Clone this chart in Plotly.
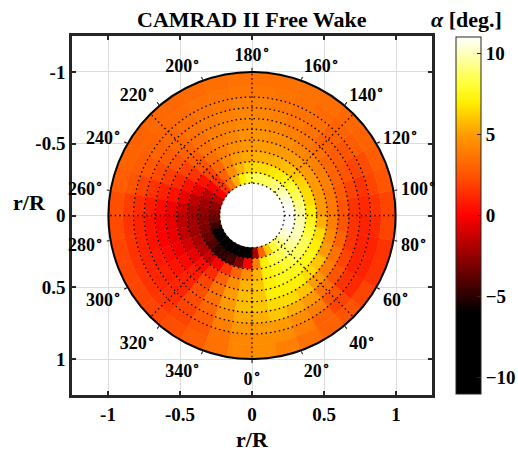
import plotly.graph_objects as go

# ---------------- data ----------------
# azimuth bin centres (deg), 10-deg wide bins
PSI_DEG = list(range(5, 360, 10))
# radial bin edges (r/R)
R_EDGES = [0.225, 0.3, 0.375, 0.45, 0.525, 0.6, 0.675, 0.75, 0.825, 0.9, 1.0]
# angle of attack [deg], one row per azimuth bin, inner -> outer radius
ALPHA_DEG = [
    [-2.0, 4.0, 5.5, 6.0, 6.0, 6.0, 5.5, 5.0, 4.5, 4.5],    # 5
    [3.0, 7.0, 7.0, 7.0, 7.0, 6.5, 6.0, 5.0, 4.5, 4.0],     # 15
    [6.0, 8.0, 7.5, 7.5, 7.0, 6.5, 5.5, 4.5, 4.0, 3.5],     # 25
    [8.0, 8.5, 8.0, 7.5, 7.0, 6.0, 5.0, 4.0, 3.0, 3.0],     # 35
    [9.0, 9.0, 8.5, 7.5, 6.5, 5.0, 3.5, 2.5, 2.0, 2.5],     # 45
    [10.0, 9.5, 8.5, 7.5, 6.0, 4.0, 2.5, 1.5, 1.2, 2.0],    # 55
    [10.5, 10.0, 8.5, 7.0, 5.0, 3.5, 2.0, 1.0, 1.0, 1.5],   # 65
    [11.0, 10.0, 8.0, 6.5, 4.5, 3.0, 1.5, 1.0, 1.0, 1.5],   # 75
    [11.0, 9.8, 7.5, 5.5, 4.0, 2.5, 1.5, 1.0, 1.2, 2.0],    # 85
    [11.0, 9.5, 7.0, 5.0, 3.8, 2.5, 1.5, 1.2, 1.5, 2.0],    # 95
    [10.8, 9.0, 6.5, 5.0, 3.8, 2.8, 2.0, 1.5, 2.0, 2.5],    # 105
    [10.5, 8.5, 6.5, 5.0, 4.0, 3.0, 2.5, 2.0, 2.2, 2.8],    # 115
    [10.0, 8.0, 6.3, 5.0, 4.0, 3.2, 2.8, 2.5, 2.8, 3.0],    # 125
    [9.5, 7.5, 6.0, 5.0, 4.2, 3.5, 3.0, 3.0, 3.0, 3.2],     # 135
    [9.0, 7.0, 5.8, 5.0, 4.3, 3.8, 3.5, 3.5, 3.3, 3.4],     # 145
    [8.5, 6.8, 5.6, 5.0, 4.5, 4.0, 3.8, 3.6, 3.5, 3.5],     # 155
    [8.5, 6.5, 5.5, 5.0, 4.6, 4.3, 4.0, 3.8, 3.6, 3.5],     # 165
    [8.5, 6.5, 5.5, 5.0, 4.7, 4.5, 4.2, 4.0, 3.7, 3.5],     # 175
    [8.0, 6.3, 5.3, 4.8, 4.6, 4.4, 4.2, 4.0, 3.7, 3.5],     # 185
    [7.0, 5.5, 5.0, 4.5, 4.3, 4.2, 4.0, 3.8, 3.6, 3.4],     # 195
    [5.5, 4.5, 4.3, 4.0, 4.0, 3.9, 3.8, 3.6, 3.5, 3.3],     # 205
    [3.5, 3.0, 3.2, 3.4, 3.5, 3.5, 3.5, 3.4, 3.3, 3.2],     # 215
    [1.5, 1.5, 2.0, 2.5, 2.8, 3.0, 3.2, 3.2, 3.2, 3.2],     # 225
    [0.0, 0.0, 0.5, 1.5, 2.0, 2.5, 2.8, 3.0, 3.0, 3.0],     # 235
    [-1.5, -1.5, -0.5, 0.5, 1.2, 1.8, 2.2, 2.6, 2.8, 3.0],  # 245
    [-2.5, -2.2, -1.5, -0.5, 0.5, 1.0, 1.5, 2.0, 2.5, 2.8], # 255
    [-3.0, -2.5, -2.0, -1.2, -0.3, 0.3, 0.8, 1.3, 1.8, 2.3],# 265
    [-3.5, -2.8, -2.2, -1.5, -0.5, 0.0, 0.5, 1.0, 1.5, 2.2],# 275
    [-4.5, -3.0, -2.2, -1.5, -0.5, 0.0, 0.5, 1.0, 1.5, 2.0],# 285
    [-7.0, -3.5, -2.0, -1.0, -0.3, 0.3, 0.7, 1.0, 1.5, 2.0],# 295
    [-10.0, -4.0, -1.8, -0.5, 0.2, 0.6, 0.9, 1.1, 1.5, 2.0],# 305
    [-11.0, -5.0, -1.2, 0.3, 0.8, 1.0, 1.1, 1.3, 1.6, 2.0], # 315
    [-11.0, -5.0, 0.0, 1.3, 2.0, 2.3, 2.2, 2.0, 2.0, 2.3],  # 325
    [-11.0, -4.5, 1.5, 3.0, 3.5, 3.5, 3.2, 2.8, 2.6, 2.8],  # 335
    [-10.5, -3.0, 3.0, 4.5, 5.0, 5.0, 4.5, 4.0, 3.6, 3.5],  # 345
    [-9.0, 0.0, 4.5, 5.5, 5.8, 5.8, 5.3, 4.8, 4.3, 4.2],    # 355
]
CB_TICKS = [-10, -5, 0, 5, 10]
AXIS_TICKS = [-1, -0.5, 0, 0.5, 1]
AXIS_TICKTEXT = ["-1", "-0.5", "0", "0.5", "1"]
ANGLE_LABEL_TICKS = list(range(0, 360, 20))
ANGLE_LABELS = [f"{a}<sup>∘</sup>" for a in ANGLE_LABEL_TICKS]
ANGLE_MINOR_TICKS = list(range(10, 360, 20))
GRID_RADII = [0.225, 0.3, 0.375, 0.45, 0.525, 0.6, 0.675, 0.75, 0.825]
GRID_ANGLES = [0, 45, 90, 135, 180, 225, 270, 315]
C_MIN, C_MAX = -11, 11

HOT = [
    [0.0, "rgb(0,0,0)"],
    [0.227, "rgb(0,0,0)"],
    [0.5, "rgb(255,0,0)"],
    [0.614, "rgb(255,85,0)"],
    [0.727, "rgb(255,155,0)"],
    [0.818, "rgb(255,240,0)"],
    [0.87, "rgb(255,255,60)"],
    [1.0, "rgb(255,255,255)"],
]

FONT = "Liberation Serif"

# ---------------- build cells ----------------
thetas, bases, lengths, colors = [], [], [], []
for i, psi in enumerate(PSI_DEG):
    for j in range(len(R_EDGES) - 1):
        thetas.append(psi)
        bases.append(R_EDGES[j])
        lengths.append(R_EDGES[j + 1] - R_EDGES[j])
        colors.append(ALPHA_DEG[i][j])

fig = go.Figure()

# invisible cartesian trace to hold the axes
fig.add_trace(go.Scatter(x=[None], y=[None], showlegend=False, hoverinfo="skip"))

fig.add_trace(go.Barpolar(
    theta=thetas, r=lengths, base=bases, width=[10] * len(thetas),
    marker=dict(
        color=colors, colorscale=HOT, cmin=C_MIN, cmax=C_MAX,
        line=dict(color=colors, colorscale=HOT, cmin=C_MIN, cmax=C_MAX, width=0.6),
        showscale=True,
        colorbar=dict(
            x=1.0667, xanchor="left", y=0.5, yanchor="middle",
            len=0.995, lenmode="fraction", thickness=25, xpad=0, ypad=0,
            outlinecolor="#262626", outlinewidth=1,
            tickvals=CB_TICKS, ticks="inside", ticklen=4, tickcolor="#262626",
            tickfont=dict(family=FONT, size=19, color="black", weight="bold"),
        ),
    ),
    showlegend=False, hoverinfo="skip",
))

# dotted radial lines
lr, lt = [], []
for a in GRID_ANGLES:
    lr += [GRID_RADII[0], 1.0, None]
    lt += [a, a, None]
fig.add_trace(go.Scatterpolar(r=lr, theta=lt, mode="lines",
                              line=dict(color="black", width=1.3, dash="1.5px,3px"),
                              showlegend=False, hoverinfo="skip"))
# dotted circles
cr, ct = [], []
for rr in GRID_RADII:
    ang = list(range(0, 361, 2))
    cr += [rr] * len(ang) + [None]
    ct += ang + [None]
fig.add_trace(go.Scatterpolar(r=cr, theta=ct, mode="lines",
                              line=dict(color="black", width=1.3, dash="1.5px,3px"),
                              showlegend=False, hoverinfo="skip"))
# minor azimuth ticks on the rim (every other 10 deg)
tr, tt = [], []
for a in ANGLE_MINOR_TICKS:
    tr += [1.0, 1.022, None]
    tt += [a, a, None]
fig.add_trace(go.Scatterpolar(r=tr, theta=tt, mode="lines", cliponaxis=False,
                              line=dict(color="black", width=1),
                              showlegend=False, hoverinfo="skip"))

axis_common = dict(
    tickvals=AXIS_TICKS, ticktext=AXIS_TICKTEXT,
    showgrid=True, gridcolor="#dcdcdc", gridwidth=1, zeroline=False,
    showline=True, linecolor="#262626", linewidth=2.5, mirror="ticks",
    ticks="inside", ticklen=4, tickwidth=2, tickcolor="#262626",
    tickfont=dict(family=FONT, size=19, color="black", weight="bold"),
)

fig.update_layout(
    width=518, height=451,
    margin=dict(l=72, r=86, t=36, b=56, autoexpand=False),
    paper_bgcolor="white", plot_bgcolor="white",
    xaxis=dict(range=[-1.25, 1.25], **axis_common),
    yaxis=dict(range=[1.25, -1.25], **axis_common),
    polar=dict(
        domain=dict(x=[0.1, 0.9], y=[0.1, 0.9]),
        bgcolor="rgba(0,0,0,0)",
        radialaxis=dict(range=[0, 1], visible=False, showgrid=False),
        angularaxis=dict(
            rotation=270, direction="counterclockwise",
            tickvals=ANGLE_LABEL_TICKS, ticktext=ANGLE_LABELS,
            showgrid=False, showline=True, linecolor="black", linewidth=2,
            ticks="outside", ticklen=3, tickcolor="black",
            tickfont=dict(family=FONT, size=18, color="black", weight="bold"),
        ),
    ),
    bargap=0,
    annotations=[
        dict(text="<b>CAMRAD II Free Wake</b>", x=0.5, y=1.045, xref="paper", yref="paper",
             xanchor="center", yanchor="middle", showarrow=False,
             font=dict(family=FONT, size=22, color="black")),
        dict(text="<b><i>α</i> [deg.]</b>", x=1.097, y=1.045, xref="paper", yref="paper",
             xanchor="center", yanchor="middle", showarrow=False,
             font=dict(family=FONT, size=22, color="black")),
        dict(text="<b>r/R</b>", x=0.5, y=-0.125, xref="paper", yref="paper",
             xanchor="center", yanchor="middle", showarrow=False,
             font=dict(family=FONT, size=22, color="black")),
        dict(text="<b>r/R</b>", x=-0.117, y=0.535, xref="paper", yref="paper",
             xanchor="center", yanchor="middle", showarrow=False,
             font=dict(family=FONT, size=22, color="black")),
    ],
)

fig.write_html("out.html")
